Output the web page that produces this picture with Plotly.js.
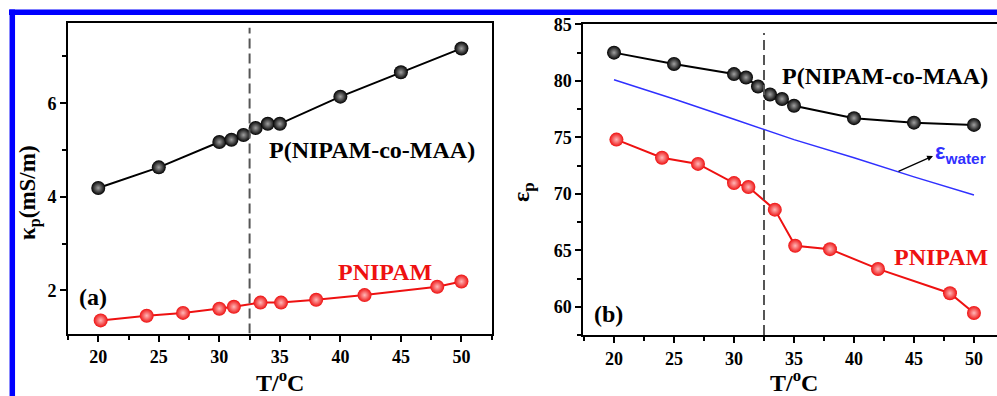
<!DOCTYPE html>
<html>
<head>
<meta charset="utf-8">
<script src="https://cdn.plot.ly/plotly-3.0.1.min.js"></script>
<style>html,body{margin:0;padding:0;background:#fff;}#chart{width:997px;height:396px;}</style>
</head>
<body>
<div id="chart"></div>
<script>
// Panel (a): conductivity kappa_p (mS/m) vs T (°C)
const copolyT_a = [20, 25, 30, 31, 32, 33, 34, 35, 40, 45, 50];
const copolyKappa = [4.19, 4.63, 5.17, 5.22, 5.32, 5.47, 5.56, 5.56, 6.14, 6.66, 7.17];
const pnipamT_a = [20.2, 24, 27, 30, 31.2, 33.4, 35.1, 38, 42, 48, 50];
const pnipamKappa = [1.36, 1.46, 1.52, 1.61, 1.65, 1.74, 1.74, 1.80, 1.90, 2.08, 2.19];

// Panel (b): dielectric constant eps_p vs T (°C)
const copolyT_b = [20, 25, 30, 31, 32, 33, 34, 35, 40, 45, 50];
const copolyEps = [82.5, 81.5, 80.6, 80.3, 79.5, 78.8, 78.4, 77.8, 76.7, 76.3, 76.1];
const pnipamT_b = [20.2, 24, 27, 30, 31.2, 33.4, 35.1, 38, 42, 48, 50];
const pnipamEps = [74.8, 73.2, 72.65, 70.95, 70.6, 68.6, 65.4, 65.1, 63.35, 61.2, 59.45];
const waterT = [20, 25, 30, 35, 40, 45, 50];
const waterEps = [80.1, 78.4, 76.6, 74.8, 73.2, 71.5, 69.9];

const xTickVals = [20, 25, 30, 35, 40, 45, 50];
const yTickValsA = [2, 4, 6];
const yTickValsB = [60, 65, 70, 75, 80, 85];
const lcstT = 32.5;

const W = 997, H = 396;
const px = v => v / W;
const py = v => 1 - v / H;

const SERIF = 'Liberation Serif, Times New Roman, serif';
const SANS = 'Liberation Sans, Arial, sans-serif';
const BLACK = '#000000';
const RED = '#ee1111';
const BLUE = '#3030ff';

function ballTrace(x, y, color, grad, xa, ya) {
  return {
    x: x, y: y, xaxis: xa, yaxis: ya, type: 'scatter', mode: 'lines+markers',
    line: {color: color, width: 2},
    marker: {size: 14, color: color, line: {width: 0},
             gradient: {type: 'radial', color: grad}},
    hoverinfo: 'skip'
  };
}

const data = [
  ballTrace(copolyT_a, copolyKappa, BLACK, '#a0a0a0', 'x', 'y'),
  ballTrace(pnipamT_a, pnipamKappa, RED, '#ffb8b8', 'x', 'y'),
  ballTrace(copolyT_b, copolyEps, BLACK, '#a0a0a0', 'x2', 'y2'),
  {x: waterT, y: waterEps, xaxis: 'x2', yaxis: 'y2', type: 'scatter', mode: 'lines',
   line: {color: BLUE, width: 1.5}, hoverinfo: 'skip'},
  ballTrace(pnipamT_b, pnipamEps, RED, '#ffb8b8', 'x2', 'y2')
];

const tickFont = {family: SERIF, size: 18, weight: 'bold', color: '#000'};
function axis(extra) {
  return Object.assign({
    showline: true, linewidth: 2, linecolor: '#000', showgrid: false, zeroline: false,
    ticks: 'outside', ticklen: 6, tickwidth: 2, tickcolor: '#000',
    tickfont: tickFont, fixedrange: true
  }, extra);
}

const ann = (text, x, y, size, color, family, extra) => Object.assign({
  text: text, x: px(x), y: py(y), xref: 'paper', yref: 'paper',
  xanchor: 'center', yanchor: 'middle', showarrow: false,
  font: {family: family || SERIF, size: size, color: color || '#000', weight: 'bold'}
}, extra || {});

const layout = {
  width: W, height: H,
  margin: {l: 0, r: 0, t: 0, b: 0, pad: 0},
  paper_bgcolor: '#fff', plot_bgcolor: '#fff',
  showlegend: false,
  xaxis: axis({domain: [px(68), px(491.7)], range: [17.5, 52.5], anchor: 'y', mirror: true,
               tickvals: xTickVals, minor: {dtick: 2.5, tick0: 0, ticklen: 4, tickwidth: 2, ticks: 'outside', tickcolor: '#000'}}),
  yaxis: axis({domain: [py(333.5), py(22.7)], range: [1.08, 7.72], anchor: 'x', mirror: true,
               tickvals: yTickValsA, minor: {dtick: 1, tick0: 0, ticklen: 4, tickwidth: 2, ticks: 'outside', tickcolor: '#000'}}),
  xaxis2: axis({domain: [px(583.3), 1], range: [17.44, 51.92], anchor: 'y2', mirror: true,
               tickvals: xTickVals, minor: {dtick: 2.5, tick0: 0, ticklen: 4, tickwidth: 2, ticks: 'outside', tickcolor: '#000'}}),
  yaxis2: axis({domain: [py(335), py(24.4)], range: [57.5, 85], anchor: 'x2', mirror: false,
               tickvals: yTickValsB, minor: {dtick: 2.5, tick0: 0, ticklen: 4, tickwidth: 2, ticks: 'outside', tickcolor: '#000'}}),
  shapes: [
    {type: 'line', xref: 'paper', yref: 'paper', x0: px(9), x1: 1.01, y0: py(12.3), y1: py(12.3),
     line: {color: '#0000ff', width: 5.5}},
    {type: 'line', xref: 'paper', yref: 'paper', x0: px(12.3), x1: px(12.3), y0: -0.02, y1: py(9.5),
     line: {color: '#0000ff', width: 5.5}},
    {type: 'line', xref: 'x', yref: 'y', x0: lcstT, x1: lcstT, y0: 1.08, y1: 7.61,
     line: {color: '#555', width: 2, dash: '10px,5px'}},
    {type: 'line', xref: 'x2', yref: 'y2', x0: lcstT, x1: lcstT, y0: 57.5, y1: 84.24,
     line: {color: '#555', width: 2, dash: '10px,5px'}}
  ],
  annotations: [
    ann('P(NIPAM-co-MAA)', 372, 150, 24),
    ann('PNIPAM', 385, 272, 24, RED),
    ann('(a)', 93, 297, 24),
    ann('P(NIPAM-co-MAA)', 885, 76, 24),
    ann('PNIPAM', 941, 257, 24, RED),
    ann('(b)', 608, 314, 24),
    ann('T/<sup>o</sup>C', 280, 381, 24),
    ann('T/<sup>o</sup>C', 794, 381, 24),
    ann('κ<sub>p</sub>(mS/m)', 29, 193, 23, '#000', SERIF, {textangle: -90}),
    ann('ε<sub>p</sub>', 523, 192, 24, '#000', SERIF, {textangle: -90}),
    ann('ε<sub>water</sub>', 960, 153, 22, BLUE, SANS),
    {x: px(933), y: py(156), xref: 'paper', yref: 'paper', text: '', showarrow: true,
     ax: -36, ay: 16, arrowhead: 2, arrowsize: 0.9, arrowwidth: 1.3, arrowcolor: '#000'}
  ]
};

Plotly.newPlot('chart', data, layout, {staticPlot: true, displayModeBar: false});
</script>
</body>
</html>
